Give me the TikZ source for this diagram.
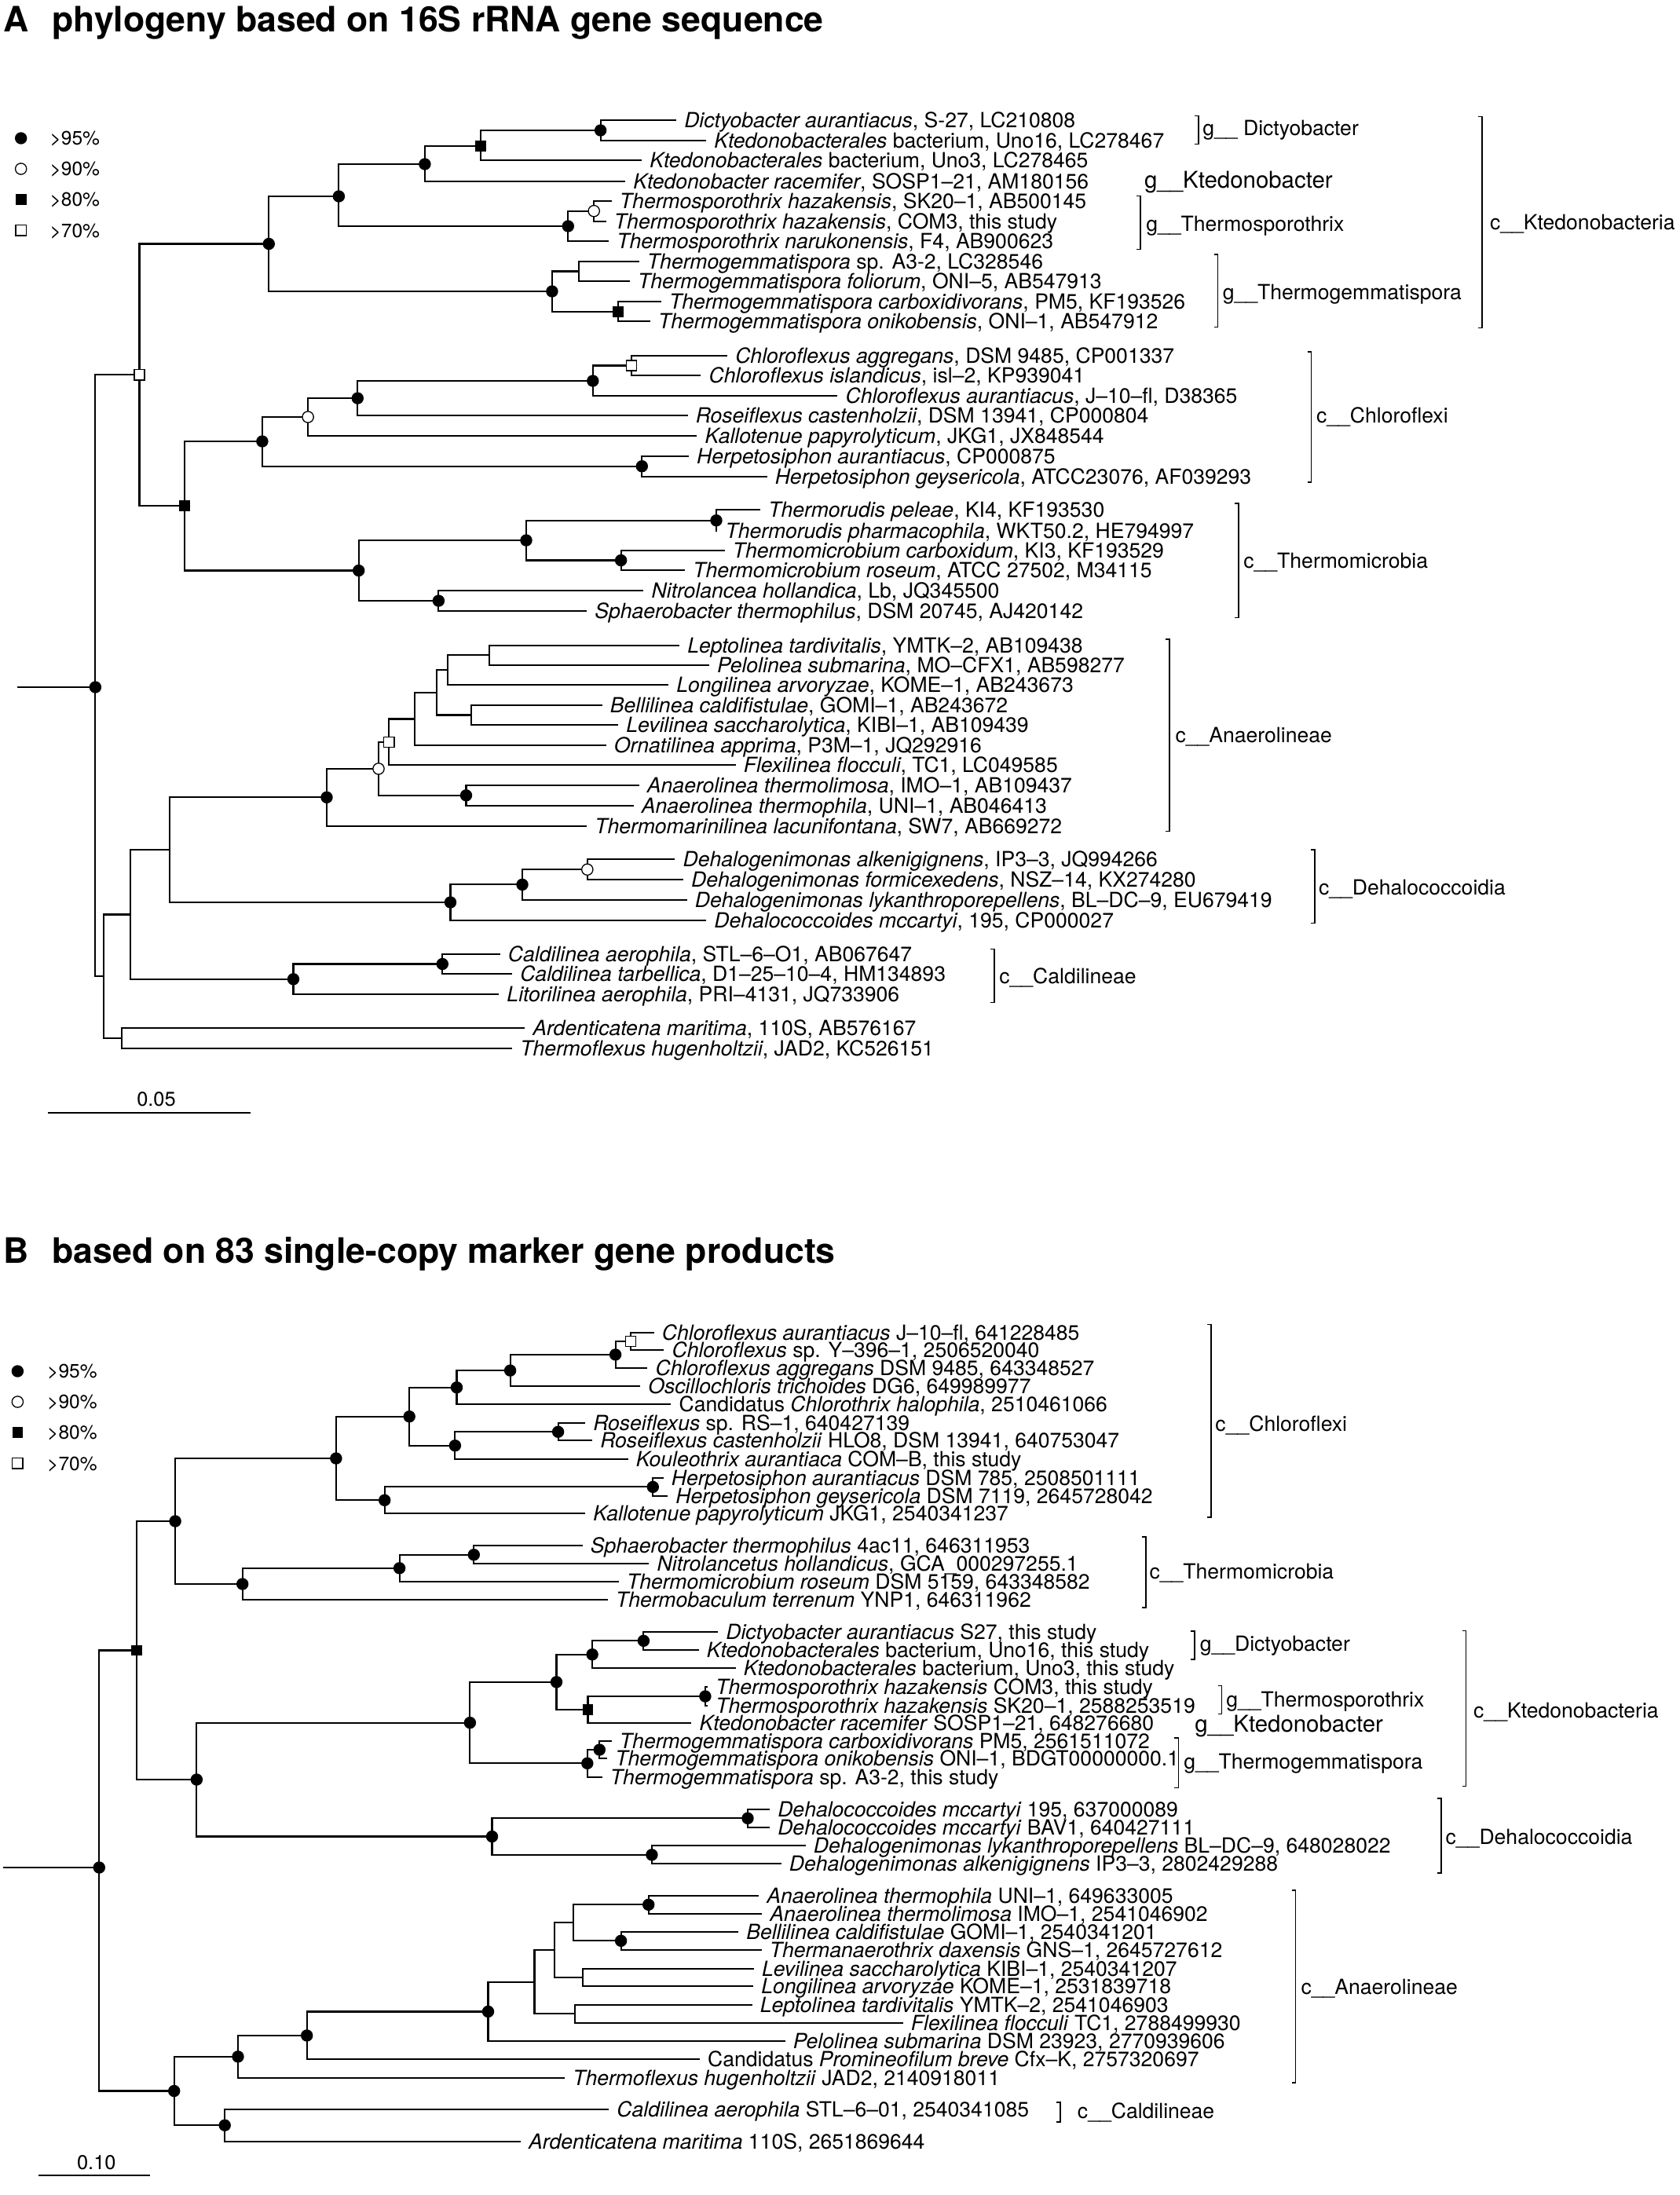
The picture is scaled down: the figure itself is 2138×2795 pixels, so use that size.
\documentclass[tikz,border=0pt]{standalone}
\usepackage{fontspec}
\setmainfont{TeX Gyre Heros}
\usetikzlibrary{positioning}

\tikzset{
  branch/.style={line width=0.75pt},
  bs95/.style={circle, fill=black, inner sep=0pt, minimum size=5.4pt},
  bs90/.style={circle, draw, fill=white, line width=0.45pt, inner sep=0pt, minimum size=5.0pt},
  bs80/.style={rectangle, fill=black, inner sep=0pt, minimum size=4.8pt},
  bs70/.style={rectangle, draw, fill=white, line width=0.45pt, inner sep=0pt, minimum size=4.6pt},
  taxon/.style={anchor=base west, inner sep=0pt, xshift=3.4pt, yshift=-3.35pt, font=\fontsize{9.3}{10}\selectfont},
  clade/.style={anchor=base west, inner sep=0pt, yshift=-3.35pt, font=\fontsize{9.3}{10}\selectfont},
  bigclade/.style={anchor=base west, inner sep=0pt, yshift=-3.7pt, font=\fontsize{10.3}{11}\selectfont},
  cladebar/.style={line width=0.55pt},
  panel/.style={anchor=base west, inner sep=0pt, yshift=-5.6pt, font=\fontsize{15.6}{17}\selectfont\bfseries},
  keytext/.style={anchor=base west, inner sep=0pt, yshift=-3.1pt, font=\fontsize{8.6}{10}\selectfont},
  barlabel/.style={anchor=base, inner sep=0pt, yshift=-3.1pt, font=\fontsize{8.9}{10}\selectfont},
}

\begin{document}
\begin{tikzpicture}[x=0.35pt, y=-0.35pt]
\useasboundingbox (0,0) rectangle (2138,2795);

% ---------------- panel A ----------------
\node[panel] (tA) at (4,25) {A};
\node[panel] (tAtext) at (66,25) {phylogeny based on 16S rRNA gene sequence};

\node[bs95] (kA95) at (26.7,176) {};
\node[bs90] (kA90) at (26.7,215) {};
\node[bs80] (kA80) at (26.7,254) {};
\node[bs70] (kA70) at (26.7,293.3) {};
\node[keytext] at (63,176) {>95\%};
\node[keytext] at (63,215) {>90\%};
\node[keytext] at (63,254) {>80\%};
\node[keytext] at (63,293.3) {>70\%};

% leaves
\coordinate (a1) at (861,152.7);
\coordinate (a2) at (899,179.3);
\coordinate (a3) at (817,204.3);
\coordinate (a4) at (796,230.7);
\coordinate (a5) at (778.7,255.7);
\coordinate (a6) at (771.7,281.7);
\coordinate (a7) at (775,306.7);
\coordinate (a8) at (813.7,332.7);
\coordinate (a9) at (801.8,358.3);
\coordinate (a10) at (841.8,384.3);
\coordinate (a11) at (827.8,409.3);
\coordinate (a12) at (926,452.7);
\coordinate (a13) at (892.3,478.3);
\coordinate (a14) at (1066.3,504.3);
\coordinate (a15) at (875.5,529.3);
\coordinate (a16) at (887.4,555);
\coordinate (a17) at (876.9,580.7);
\coordinate (a18) at (976.5,606.7);
\coordinate (a19) at (968.1,649.3);
\coordinate (a20) at (913.4,676);
\coordinate (a21) at (922.5,701);
\coordinate (a22) at (872,726);
\coordinate (a23) at (819.4,752.3);
\coordinate (a24) at (747.1,777.7);
\coordinate (a25) at (865,821.7);
\coordinate (a26) at (902.8,846.7);
\coordinate (a27) at (851,871.7);
\coordinate (a28) at (766.7,897.7);
\coordinate (a29) at (787.1,923.3);
\coordinate (a30) at (771.7,949.3);
\coordinate (a31) at (936.5,974.3);
\coordinate (a32) at (813.7,1000);
\coordinate (a33) at (806.7,1025.7);
\coordinate (a34) at (747.1,1051.7);
\coordinate (a35) at (859.3,1094.3);
\coordinate (a36) at (869.9,1120);
\coordinate (a37) at (874.7,1145.7);
\coordinate (a38) at (899.2,1171.7);
\coordinate (a39) at (636.7,1215);
\coordinate (a40) at (652,1240);
\coordinate (a41) at (635.2,1266);
\coordinate (a42) at (668.1,1309.3);
\coordinate (a43) at (652,1335);

% internal nodes
\coordinate (nA1) at (764.6,166);
\coordinate (nA2) at (611.7,186);
\coordinate (nA3) at (540.9,209);
\coordinate (nA4) at (756.2,268.7);
\coordinate (nA5) at (723.3,288);
\coordinate (nA6) at (431.4,250);
\coordinate (nA7) at (736.6,345.5);
\coordinate (nA8) at (787.1,396.8);
\coordinate (nA9) at (702.9,371);
\coordinate (nA10) at (342.3,310.5);
\coordinate (nA11) at (803.9,465.5);
\coordinate (nA12) at (754.8,485);
\coordinate (nA13) at (455.3,507.1);
\coordinate (nA14) at (392.1,531);
\coordinate (nA15) at (817.3,593.7);
\coordinate (nA16) at (333.9,562);
\coordinate (nA17) at (912,662.7);
\coordinate (nA18) at (790.6,713.5);
\coordinate (nA19) at (670,688);
\coordinate (nA20) at (558.4,765);
\coordinate (nA21) at (456.7,726.5);
\coordinate (nA22) at (235,644.3);
\coordinate (nA23) at (177.5,477.4);
\coordinate (nA24) at (623,834.2);
\coordinate (nA25) at (569.6,853);
\coordinate (nA26) at (599.8,910.5);
\coordinate (nA27) at (556.3,881.8);
\coordinate (nA28) at (528.2,915.5);
\coordinate (nA29) at (495.3,944.9);
\coordinate (nA30) at (593.5,1012.8);
\coordinate (nA31) at (482,978.9);
\coordinate (nA32) at (416,1015.3);
\coordinate (nA33) at (747.8,1107.2);
\coordinate (nA34) at (665,1126.4);
\coordinate (nA35) at (573.5,1149);
\coordinate (nA36) at (215.8,1082.2);
\coordinate (nA37) at (563.3,1227.5);
\coordinate (nA38) at (373.5,1246.8);
\coordinate (nA39) at (166.3,1164.5);
\coordinate (nA40) at (154.6,1322.2);
\coordinate (nA41) at (131.6,1243.4);
\coordinate (rA) at (121.4,875);
\coordinate (sA) at (22.4,875);

% branches
\draw[branch] (nA1) |- (a1) (nA1) |- (a2);
\draw[branch] (nA2) |- (nA1) (nA2) |- (a3);
\draw[branch] (nA3) |- (nA2) (nA3) |- (a4);
\draw[branch] (nA4) |- (a5) (nA4) |- (a6);
\draw[branch] (nA5) |- (nA4) (nA5) |- (a7);
\draw[branch] (nA6) |- (nA3) (nA6) |- (nA5);
\draw[branch] (nA7) |- (a8) (nA7) |- (a9);
\draw[branch] (nA8) |- (a10) (nA8) |- (a11);
\draw[branch] (nA9) |- (nA7) (nA9) |- (nA8);
\draw[branch] (nA10) |- (nA6) (nA10) |- (nA9);
\draw[branch] (nA11) |- (a12) (nA11) |- (a13);
\draw[branch] (nA12) |- (nA11) (nA12) |- (a14);
\draw[branch] (nA13) |- (nA12) (nA13) |- (a15);
\draw[branch] (nA14) |- (nA13) (nA14) |- (a16);
\draw[branch] (nA15) |- (a17) (nA15) |- (a18);
\draw[branch] (nA16) |- (nA14) (nA16) |- (nA15);
\draw[branch] (nA17) |- (a19) (nA17) |- (a20);
\draw[branch] (nA18) |- (a21) (nA18) |- (a22);
\draw[branch] (nA19) |- (nA17) (nA19) |- (nA18);
\draw[branch] (nA20) |- (a23) (nA20) |- (a24);
\draw[branch] (nA21) |- (nA19) (nA21) |- (nA20);
\draw[branch] (nA22) |- (nA16) (nA22) |- (nA21);
\draw[branch] (nA23) |- (nA10) (nA23) |- (nA22);
\draw[branch] (nA24) |- (a25) (nA24) |- (a26);
\draw[branch] (nA25) |- (nA24) (nA25) |- (a27);
\draw[branch] (nA26) |- (a28) (nA26) |- (a29);
\draw[branch] (nA27) |- (nA25) (nA27) |- (nA26);
\draw[branch] (nA28) |- (nA27) (nA28) |- (a30);
\draw[branch] (nA29) |- (nA28) (nA29) |- (a31);
\draw[branch] (nA30) |- (a32) (nA30) |- (a33);
\draw[branch] (nA31) |- (nA29) (nA31) |- (nA30);
\draw[branch] (nA32) |- (nA31) (nA32) |- (a34);
\draw[branch] (nA33) |- (a35) (nA33) |- (a36);
\draw[branch] (nA34) |- (nA33) (nA34) |- (a37);
\draw[branch] (nA35) |- (nA34) (nA35) |- (a38);
\draw[branch] (nA36) |- (nA32) (nA36) |- (nA35);
\draw[branch] (nA37) |- (a39) (nA37) |- (a40);
\draw[branch] (nA38) |- (nA37) (nA38) |- (a41);
\draw[branch] (nA39) |- (nA36) (nA39) |- (nA38);
\draw[branch] (nA40) |- (a42) (nA40) |- (a43);
\draw[branch] (nA41) |- (nA39) (nA41) |- (nA40);
\draw[branch] (rA) |- (nA23) (rA) |- (nA41);
\draw[branch] (sA) -- (rA);

% support values
\foreach \n in {nA1,nA3,nA5,nA6,nA9,nA10,nA12,nA13,nA15,nA16,nA17,nA18,nA19,nA20,nA21,nA30,nA32,nA34,nA35,nA37,nA38,rA}
  \node[bs95] at (\n) {};
\foreach \n in {nA4,nA14,nA31,nA33}
  \node[bs90] at (\n) {};
\foreach \n in {nA2,nA8,nA22}
  \node[bs80] at (\n) {};
\foreach \n in {nA11,nA23,nA29}
  \node[bs70] at (\n) {};

% taxon labels
\node[taxon] (la1) at (a1) {\textit{Dictyobacter aurantiacus}, S-27, LC210808};
\node[taxon] (la2) at (a2) {\textit{Ktedonobacterales} bacterium, Uno16, LC278467};
\node[taxon] (la3) at (a3) {\textit{Ktedonobacterales} bacterium, Uno3, LC278465};
\node[taxon] (la4) at (a4) {\textit{Ktedonobacter racemifer}, SOSP1--21, AM180156};
\node[taxon] (la5) at (a5) {\textit{Thermosporothrix hazakensis}, SK20--1, AB500145};
\node[taxon] (la6) at (a6) {\textit{Thermosporothrix hazakensis}, COM3, this study};
\node[taxon] (la7) at (a7) {\textit{Thermosporothrix narukonensis}, F4, AB900623};
\node[taxon] (la8) at (a8) {\textit{Thermogemmatispora} sp. A3-2, LC328546};
\node[taxon] (la9) at (a9) {\textit{Thermogemmatispora foliorum}, ONI--5, AB547913};
\node[taxon] (la10) at (a10) {\textit{Thermogemmatispora carboxidivorans}, PM5, KF193526};
\node[taxon] (la11) at (a11) {\textit{Thermogemmatispora onikobensis}, ONI--1, AB547912};
\node[taxon] (la12) at (a12) {\textit{Chloroflexus aggregans}, DSM 9485, CP001337};
\node[taxon] (la13) at (a13) {\textit{Chloroflexus islandicus}, isl--2, KP939041};
\node[taxon] (la14) at (a14) {\textit{Chloroflexus aurantiacus}, J--10--fl, D38365};
\node[taxon] (la15) at (a15) {\textit{Roseiflexus castenholzii}, DSM 13941, CP000804};
\node[taxon] (la16) at (a16) {\textit{Kallotenue papyrolyticum}, JKG1, JX848544};
\node[taxon] (la17) at (a17) {\textit{Herpetosiphon aurantiacus}, CP000875};
\node[taxon] (la18) at (a18) {\textit{Herpetosiphon geysericola}, ATCC23076, AF039293};
\node[taxon] (la19) at (a19) {\textit{Thermorudis peleae}, KI4, KF193530};
\node[taxon] (la20) at (a20) {\textit{Thermorudis pharmacophila}, WKT50.2, HE794997};
\node[taxon] (la21) at (a21) {\textit{Thermomicrobium carboxidum}, KI3, KF193529};
\node[taxon] (la22) at (a22) {\textit{Thermomicrobium roseum}, ATCC 27502, M34115};
\node[taxon] (la23) at (a23) {\textit{Nitrolancea hollandica}, Lb, JQ345500};
\node[taxon] (la24) at (a24) {\textit{Sphaerobacter thermophilus}, DSM 20745, AJ420142};
\node[taxon] (la25) at (a25) {\textit{Leptolinea tardivitalis}, YMTK--2, AB109438};
\node[taxon] (la26) at (a26) {\textit{Pelolinea submarina}, MO--CFX1, AB598277};
\node[taxon] (la27) at (a27) {\textit{Longilinea arvoryzae}, KOME--1, AB243673};
\node[taxon] (la28) at (a28) {\textit{Bellilinea caldifistulae}, GOMI--1, AB243672};
\node[taxon] (la29) at (a29) {\textit{Levilinea saccharolytica}, KIBI--1, AB109439};
\node[taxon] (la30) at (a30) {\textit{Ornatilinea apprima}, P3M--1, JQ292916};
\node[taxon] (la31) at (a31) {\textit{Flexilinea flocculi}, TC1, LC049585};
\node[taxon] (la32) at (a32) {\textit{Anaerolinea thermolimosa}, IMO--1, AB109437};
\node[taxon] (la33) at (a33) {\textit{Anaerolinea thermophila}, UNI--1, AB046413};
\node[taxon] (la34) at (a34) {\textit{Thermomarinilinea lacunifontana}, SW7, AB669272};
\node[taxon] (la35) at (a35) {\textit{Dehalogenimonas alkenigignens}, IP3--3, JQ994266};
\node[taxon] (la36) at (a36) {\textit{Dehalogenimonas formicexedens}, NSZ--14, KX274280};
\node[taxon] (la37) at (a37) {\textit{Dehalogenimonas lykanthroporepellens}, BL--DC--9, EU679419};
\node[taxon] (la38) at (a38) {\textit{Dehalococcoides mccartyi}, 195, CP000027};
\node[taxon] (la39) at (a39) {\textit{Caldilinea aerophila}, STL--6--O1, AB067647};
\node[taxon] (la40) at (a40) {\textit{Caldilinea tarbellica}, D1--25--10--4, HM134893};
\node[taxon] (la41) at (a41) {\textit{Litorilinea aerophila}, PRI--4131, JQ733906};
\node[taxon] (la42) at (a42) {\textit{Ardenticatena maritima}, 110S, AB576167};
\node[taxon] (la43) at (a43) {\textit{Thermoflexus hugenholtzii}, JAD2, KC526151};

% genus and class brackets
\draw[cladebar] (1521,147.3) -- (1526.1,147.3) -- (1526.1,183.3) -- (1521,183.3);
\node[clade] at (1530.8,163.3) {g\_\_ Dictyobacter};
\node[bigclade] at (1456.5,229) {g\_\_Ktedonobacter};
\draw[cladebar] (1446.8,249.3) -- (1451.8,249.3) -- (1451.8,317.7) -- (1446.8,317.7);
\node[clade] at (1458.8,285) {g\_\_Thermosporothrix};
\draw[cladebar] (1545.6,324) -- (1550.6,324) -- (1550.6,416.7) -- (1545.6,416.7);
\node[clade] at (1556.2,371.7) {g\_\_Thermogemmatispora};
\draw[cladebar] (1882.1,148.3) -- (1887.1,148.3) -- (1887.1,417.3) -- (1882.1,417.3);
\node[clade] at (1896.5,283.3) {c\_\_Ktedonobacteria};
\draw[cladebar] (1664.5,447.8) -- (1669.5,447.8) -- (1669.5,614.2) -- (1664.5,614.2);
\node[clade] at (1675.5,528.8) {c\_\_Chloroflexi};
\draw[cladebar] (1571.8,640.9) -- (1576.8,640.9) -- (1576.8,786.3) -- (1571.8,786.3);
\node[clade] at (1582.8,714.1) {c\_\_Thermomicrobia};
\draw[cladebar] (1483.9,814) -- (1488.9,814) -- (1488.9,1058.7) -- (1483.9,1058.7);
\node[clade] at (1496,936.1) {c\_\_Anaerolineae};
\draw[cladebar] (1668.7,1082) -- (1673.7,1082) -- (1673.7,1175.3) -- (1668.7,1175.3);
\node[clade] at (1678.5,1130.3) {c\_\_Dehalococcoidia};
\draw[cladebar] (1260.8,1208.6) -- (1265.8,1208.6) -- (1265.8,1276.3) -- (1260.8,1276.3);
\node[clade] at (1271.8,1243) {c\_\_Caldilineae};

% scale bar
\coordinate (barA1) at (61.2,1417.3);
\coordinate (barA2) at (319.1,1417.3);
\draw[line width=0.6pt] (barA1) -- (barA2);
\node[barlabel] (barAlab) at (199,1399.3) {0.05};

% ---------------- panel B ----------------
\node[panel] (tB) at (4,1592) {B};
\node[panel] (tBtext) at (66,1592) {based on 83 single-copy marker gene products};

\node[bs95] (kB95) at (22.4,1746) {};
\node[bs90] (kB90) at (22.4,1785) {};
\node[bs80] (kB80) at (22.4,1824) {};
\node[bs70] (kB70) at (22.4,1863.3) {};
\node[keytext] at (59.6,1746) {>95\%};
\node[keytext] at (59.6,1785) {>90\%};
\node[keytext] at (59.6,1824) {>80\%};
\node[keytext] at (59.6,1863.3) {>70\%};

% leaves
\coordinate (b1) at (832.7,1696.7);
\coordinate (b2) at (845.3,1719);
\coordinate (b3) at (824.3,1742);
\coordinate (b4) at (815.2,1765.3);
\coordinate (b5) at (854.4,1788.3);
\coordinate (b6) at (745,1812);
\coordinate (b7) at (754.1,1834.3);
\coordinate (b8) at (799.7,1858.3);
\coordinate (b9) at (844.6,1881.7);
\coordinate (b10) at (850.2,1905);
\coordinate (b11) at (745,1927.3);
\coordinate (b12) at (741.5,1968.3);
\coordinate (b13) at (826.4,1991);
\coordinate (b14) at (787.8,2014);
\coordinate (b15) at (773.8,2037.3);
\coordinate (b16) at (914.1,2077.7);
\coordinate (b17) at (889.5,2101);
\coordinate (b18) at (936.5,2124);
\coordinate (b19) at (901,2148.3);
\coordinate (b20) at (901,2171.7);
\coordinate (b21) at (880.4,2194);
\coordinate (b22) at (778.7,2216.7);
\coordinate (b23) at (773,2239.3);
\coordinate (b24) at (766.7,2262.7);
\coordinate (b25) at (980,2304);
\coordinate (b26) at (980,2326.7);
\coordinate (b27) at (1025.6,2350.3);
\coordinate (b28) at (994.7,2373.3);
\coordinate (b29) at (966,2414);
\coordinate (b30) at (970.2,2436.7);
\coordinate (b31) at (940,2460);
\coordinate (b32) at (969.5,2482.7);
\coordinate (b33) at (959.7,2506.7);
\coordinate (b34) at (959,2529.3);
\coordinate (b35) at (957.6,2552.7);
\coordinate (b36) at (1149.6,2575.7);
\coordinate (b37) at (999.6,2599);
\coordinate (b38) at (890.9,2622.3);
\coordinate (b39) at (719,2645.7);
\coordinate (b40) at (775.2,2685.7);
\coordinate (b41) at (662.9,2726.7);

% internal nodes
\coordinate (nB1) at (803.2,1707.8);
\coordinate (nB2) at (783.6,1724.9);
\coordinate (nB3) at (649.6,1745.1);
\coordinate (nB4) at (581.5,1766.7);
\coordinate (nB5) at (710.6,1823.2);
\coordinate (nB6) at (579.4,1840.7);
\coordinate (nB7) at (521.2,1803.7);
\coordinate (nB8) at (831.3,1893.4);
\coordinate (nB9) at (489.7,1910.3);
\coordinate (nB10) at (427.9,1857);
\coordinate (nB11) at (603.3,1979.7);
\coordinate (nB12) at (508.6,1996.8);
\coordinate (nB13) at (308.7,2017);
\coordinate (nB14) at (223.1,1937);
\coordinate (nB15) at (819.4,2089.3);
\coordinate (nB16) at (754.1,2106.7);
\coordinate (nB17) at (897.9,2160);
\coordinate (nB18) at (748.5,2177);
\coordinate (nB19) at (708.5,2141.8);
\coordinate (nB20) at (763.3,2228);
\coordinate (nB21) at (747.8,2245.3);
\coordinate (nB22) at (598.4,2193.6);
\coordinate (nB23) at (952,2315.3);
\coordinate (nB24) at (829.9,2361.8);
\coordinate (nB25) at (626.5,2338.5);
\coordinate (nB26) at (250.4,2266);
\coordinate (nB27) at (174,2101.5);
\coordinate (nB28) at (825.7,2425.3);
\coordinate (nB29) at (790.6,2471.3);
\coordinate (nB30) at (729.6,2448.3);
\coordinate (nB31) at (742.2,2518);
\coordinate (nB32) at (706.4,2483.2);
\coordinate (nB33) at (731.7,2564.2);
\coordinate (nB34) at (680.5,2523.7);
\coordinate (nB35) at (621.5,2561.4);
\coordinate (nB36) at (390.7,2591.9);
\coordinate (nB37) at (303,2618.8);
\coordinate (nB38) at (286.2,2706.2);
\coordinate (nB39) at (221.7,2662.5);
\coordinate (rB) at (126.3,2378);
\coordinate (sB) at (3.5,2378);

% branches
\draw[branch] (nB1) |- (b1) (nB1) |- (b2);
\draw[branch] (nB2) |- (nB1) (nB2) |- (b3);
\draw[branch] (nB3) |- (nB2) (nB3) |- (b4);
\draw[branch] (nB4) |- (nB3) (nB4) |- (b5);
\draw[branch] (nB5) |- (b6) (nB5) |- (b7);
\draw[branch] (nB6) |- (nB5) (nB6) |- (b8);
\draw[branch] (nB7) |- (nB4) (nB7) |- (nB6);
\draw[branch] (nB8) |- (b9) (nB8) |- (b10);
\draw[branch] (nB9) |- (nB8) (nB9) |- (b11);
\draw[branch] (nB10) |- (nB7) (nB10) |- (nB9);
\draw[branch] (nB11) |- (b12) (nB11) |- (b13);
\draw[branch] (nB12) |- (nB11) (nB12) |- (b14);
\draw[branch] (nB13) |- (nB12) (nB13) |- (b15);
\draw[branch] (nB14) |- (nB10) (nB14) |- (nB13);
\draw[branch] (nB15) |- (b16) (nB15) |- (b17);
\draw[branch] (nB16) |- (nB15) (nB16) |- (b18);
\draw[branch] (nB17) |- (b19) (nB17) |- (b20);
\draw[branch] (nB18) |- (nB17) (nB18) |- (b21);
\draw[branch] (nB19) |- (nB16) (nB19) |- (nB18);
\draw[branch] (nB20) |- (b22) (nB20) |- (b23);
\draw[branch] (nB21) |- (nB20) (nB21) |- (b24);
\draw[branch] (nB22) |- (nB19) (nB22) |- (nB21);
\draw[branch] (nB23) |- (b25) (nB23) |- (b26);
\draw[branch] (nB24) |- (b27) (nB24) |- (b28);
\draw[branch] (nB25) |- (nB23) (nB25) |- (nB24);
\draw[branch] (nB26) |- (nB22) (nB26) |- (nB25);
\draw[branch] (nB27) |- (nB14) (nB27) |- (nB26);
\draw[branch] (nB28) |- (b29) (nB28) |- (b30);
\draw[branch] (nB29) |- (b31) (nB29) |- (b32);
\draw[branch] (nB30) |- (nB28) (nB30) |- (nB29);
\draw[branch] (nB31) |- (b33) (nB31) |- (b34);
\draw[branch] (nB32) |- (nB30) (nB32) |- (nB31);
\draw[branch] (nB33) |- (b35) (nB33) |- (b36);
\draw[branch] (nB34) |- (nB32) (nB34) |- (nB33);
\draw[branch] (nB35) |- (nB34) (nB35) |- (b37);
\draw[branch] (nB36) |- (nB35) (nB36) |- (b38);
\draw[branch] (nB37) |- (nB36) (nB37) |- (b39);
\draw[branch] (nB38) |- (b40) (nB38) |- (b41);
\draw[branch] (nB39) |- (nB37) (nB39) |- (nB38);
\draw[branch] (rB) |- (nB27) (rB) |- (nB39);
\draw[branch] (sB) -- (rB);

% support values
\foreach \n in {nB2,nB3,nB4,nB5,nB6,nB7,nB8,nB9,nB10,nB11,nB12,nB13,nB14,nB15,nB16,nB17,nB19,nB20,nB21,nB22,nB23,nB24,nB25,nB26,nB28,nB29,nB35,nB36,nB37,nB38,nB39,rB}
  \node[bs95] at (\n) {};
\foreach \n in {nB18,nB27}
  \node[bs80] at (\n) {};
\node[bs70] at (nB1) {};

% taxon labels
\node[taxon] (lb1) at (b1) {\textit{Chloroflexus aurantiacus} J--10--fl, 641228485};
\node[taxon] (lb2) at (b2) {\textit{Chloroflexus} sp. Y--396--1, 2506520040};
\node[taxon] (lb3) at (b3) {\textit{Chloroflexus aggregans} DSM 9485, 643348527};
\node[taxon] (lb4) at (b4) {\textit{Oscillochloris trichoides} DG6, 649989977};
\node[taxon] (lb5) at (b5) {Candidatus \textit{Chlorothrix halophila}, 2510461066};
\node[taxon] (lb6) at (b6) {\textit{Roseiflexus} sp. RS--1, 640427139};
\node[taxon] (lb7) at (b7) {\textit{Roseiflexus castenholzii} HLO8, DSM 13941, 640753047};
\node[taxon] (lb8) at (b8) {\textit{Kouleothrix aurantiaca} COM--B, this study};
\node[taxon] (lb9) at (b9) {\textit{Herpetosiphon aurantiacus} DSM 785, 2508501111};
\node[taxon] (lb10) at (b10) {\textit{Herpetosiphon geysericola} DSM 7119, 2645728042};
\node[taxon] (lb11) at (b11) {\textit{Kallotenue papyrolyticum} JKG1, 2540341237};
\node[taxon] (lb12) at (b12) {\textit{Sphaerobacter thermophilus} 4ac11, 646311953};
\node[taxon] (lb13) at (b13) {\textit{Nitrolancetus hollandicus}, GCA\_000297255.1};
\node[taxon] (lb14) at (b14) {\textit{Thermomicrobium roseum} DSM 5159, 643348582};
\node[taxon] (lb15) at (b15) {\textit{Thermobaculum terrenum} YNP1, 646311962};
\node[taxon] (lb16) at (b16) {\textit{Dictyobacter aurantiacus} S27, this study};
\node[taxon] (lb17) at (b17) {\textit{Ktedonobacterales} bacterium, Uno16, this study};
\node[taxon] (lb18) at (b18) {\textit{Ktedonobacterales} bacterium, Uno3, this study};
\node[taxon] (lb19) at (b19) {\textit{Thermosporothrix hazakensis} COM3, this study};
\node[taxon] (lb20) at (b20) {\textit{Thermosporothrix hazakensis} SK20--1, 2588253519};
\node[taxon] (lb21) at (b21) {\textit{Ktedonobacter racemifer} SOSP1--21, 648276680};
\node[taxon] (lb22) at (b22) {\textit{Thermogemmatispora carboxidivorans} PM5, 2561511072};
\node[taxon] (lb23) at (b23) {\textit{Thermogemmatispora onikobensis} ONI--1, BDGT00000000.1};
\node[taxon] (lb24) at (b24) {\textit{Thermogemmatispora} sp. A3-2, this study};
\node[taxon] (lb25) at (b25) {\textit{Dehalococcoides mccartyi} 195, 637000089};
\node[taxon] (lb26) at (b26) {\textit{Dehalococcoides mccartyi} BAV1, 640427111};
\node[taxon] (lb27) at (b27) {\textit{Dehalogenimonas lykanthroporepellens} BL--DC--9, 648028022};
\node[taxon] (lb28) at (b28) {\textit{Dehalogenimonas alkenigignens} IP3--3, 2802429288};
\node[taxon] (lb29) at (b29) {\textit{Anaerolinea thermophila} UNI--1, 649633005};
\node[taxon] (lb30) at (b30) {\textit{Anaerolinea thermolimosa} IMO--1, 2541046902};
\node[taxon] (lb31) at (b31) {\textit{Bellilinea caldifistulae} GOMI--1, 2540341201};
\node[taxon] (lb32) at (b32) {\textit{Thermanaerothrix daxensis} GNS--1, 2645727612};
\node[taxon] (lb33) at (b33) {\textit{Levilinea saccharolytica} KIBI--1, 2540341207};
\node[taxon] (lb34) at (b34) {\textit{Longilinea arvoryzae} KOME--1, 2531839718};
\node[taxon] (lb35) at (b35) {\textit{Leptolinea tardivitalis} YMTK--2, 2541046903};
\node[taxon] (lb36) at (b36) {\textit{Flexilinea flocculi} TC1, 2788499930};
\node[taxon] (lb37) at (b37) {\textit{Pelolinea submarina} DSM 23923, 2770939606};
\node[taxon] (lb38) at (b38) {Candidatus \textit{Promineofilum breve} Cfx--K, 2757320697};
\node[taxon] (lb39) at (b39) {\textit{Thermoflexus hugenholtzii} JAD2, 2140918011};
\node[taxon] (lb40) at (b40) {\textit{Caldilinea aerophila} STL--6--01, 2540341085};
\node[taxon] (lb41) at (b41) {\textit{Ardenticatena maritima} 110S, 2651869644};

% genus and class brackets
\draw[cladebar] (1537.1,1686.5) -- (1542.1,1686.5) -- (1542.1,1932.2) -- (1537.1,1932.2);
\node[clade] at (1546.9,1813.1) {c\_\_Chloroflexi};
\draw[cladebar] (1453.7,1956.7) -- (1458.7,1956.7) -- (1458.7,2046.9) -- (1453.7,2046.9);
\node[clade] at (1463,2000.8) {c\_\_Thermomicrobia};
\draw[cladebar] (1515.7,2077.1) -- (1520.7,2077.1) -- (1520.7,2113) -- (1515.7,2113);
\node[clade] at (1527.2,2092.7) {g\_\_Dictyobacter};
\draw[cladebar] (1550.5,2146.5) -- (1555.5,2146.5) -- (1555.5,2182.4) -- (1550.5,2182.4);
\node[clade] at (1560.8,2164.1) {g\_\_Thermosporothrix};
\node[bigclade] at (1520.7,2194.7) {g\_\_Ktedonobacter};
\draw[cladebar] (1495.4,2213) -- (1500.4,2213) -- (1500.4,2276.3) -- (1495.4,2276.3);
\node[clade] at (1506.8,2242.9) {g\_\_Thermogemmatispora};
\draw[cladebar] (1861.5,2076.3) -- (1866.5,2076.3) -- (1866.5,2274.3) -- (1861.5,2274.3);
\node[clade] at (1875.6,2177.6) {c\_\_Ktedonobacteria};
\draw[cladebar] (1829.8,2290) -- (1834.8,2290) -- (1834.8,2385) -- (1829.8,2385);
\node[clade] at (1840.1,2339.3) {c\_\_Dehalococcoidia};
\draw[cladebar] (1644.5,2406.7) -- (1649.5,2406.7) -- (1649.5,2651.7) -- (1644.5,2651.7);
\node[clade] at (1656,2530) {c\_\_Anaerolineae};
\draw[cladebar] (1345.2,2676.7) -- (1350.2,2676.7) -- (1350.2,2701.7) -- (1345.2,2701.7);
\node[clade] at (1371.4,2688.3) {c\_\_Caldilineae};

% scale bar
\coordinate (barB1) at (49.1,2770);
\coordinate (barB2) at (190.8,2770);
\draw[line width=0.6pt] (barB1) -- (barB2);
\node[barlabel] (barBlab) at (122.8,2753.3) {0.10};
\end{tikzpicture}
\end{document}
